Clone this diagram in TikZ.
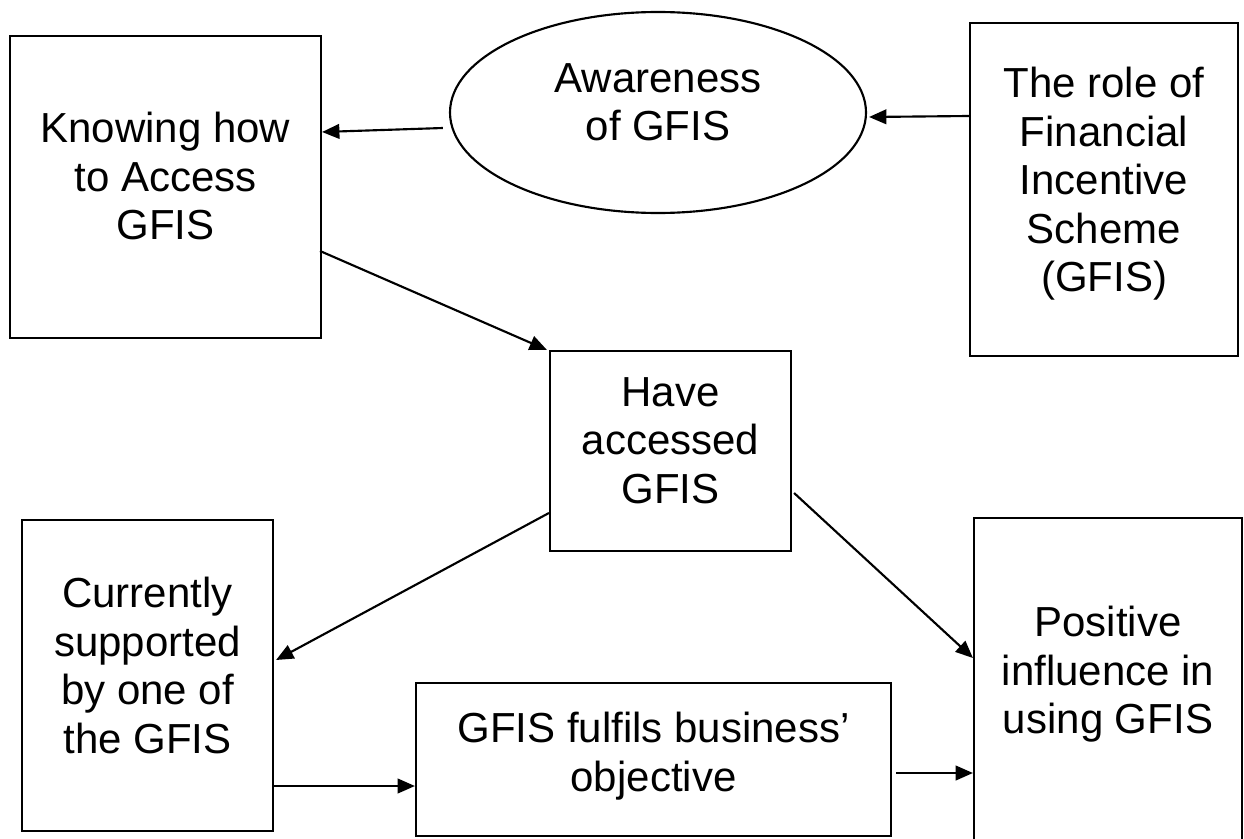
\documentclass[tikz,border=0pt]{standalone}
\usepackage{fontspec}
\setmainfont{Liberation Sans}
\usetikzlibrary{arrows.meta,shapes.geometric,calc}
\begin{document}
\begin{tikzpicture}[x=0.75pt,y=-0.75pt,
  box/.style={draw,line width=1.6pt,rectangle,inner sep=0pt},
  oval/.style={draw,line width=1.6pt,ellipse,inner sep=0pt},
  lbl/.style={align=center,anchor=north,inner sep=0pt,font=\fontsize{31.5}{36.4}\selectfont},
  arr/.style={line width=1.6pt,-{Triangle[length=13pt,width=11pt]}}]
\useasboundingbox (0,0) rectangle (1244,838);

% shapes
\node[box,minimum width=233.25pt,minimum height=226.5pt] (know) at (165.5,187) {};
\node[oval,minimum width=312pt,minimum height=150.75pt] (aware) at (658,112.5) {};
\node[box,minimum width=201pt,minimum height=249.75pt] (role) at (1104,189.5) {};
\node[box,minimum width=180.75pt,minimum height=150pt] (have) at (670.5,451) {};
\node[box,minimum width=188.25pt,minimum height=233.25pt] (curr) at (147.5,675.5) {};
\node[box,minimum width=356.25pt,minimum height=114.75pt] (fulf) at (653.5,759.5) {};
\node[box,minimum width=201pt,minimum height=249pt] (pos) at (1108,684) {};

% texts
\node[lbl] (tknow) at (165.5,112) {Knowing how\\to Access\\GFIS};
\node[lbl] (taware) at (658,63) {Awareness\\of GFIS};
\node[lbl] (trole) at (1104,67) {The role of\\Financial\\Incentive\\Scheme\\(GFIS)};
\node[lbl] (thave) at (670.5,377) {Have\\accessed\\GFIS};
\node[lbl] (tcurr) at (147.5,577) {Currently\\supported\\by one of\\the GFIS};
\node[lbl] (tfulf) at (653.5,712) {GFIS fulfils business’\\objective};
\node[lbl] (tpos) at (1108,606) {Positive\\influence in\\using GFIS};

% connectors
\draw[arr] ($(aware.west)+(-6,15.5)$) -- ($(know.east)+(0,-55)$);
\draw[arr] ($(role.west)+(0,-73.5)$) -- ($(aware.east)+(2,4.5)$);
\draw[arr] ($(know.east)+(-2,64)$) -- ($(have.north west)+(-2,0)$);
\draw[arr] ($(have.west)+(0,62)$) -- ($(curr.east)+(2,-15.5)$);
\draw[arr] ($(have.east)+(2,42)$) -- ($(pos.west)+(0,-26)$);
\draw[arr] ($(curr.east)+(0,110.5)$) -- ($(fulf.west)+(0,26.5)$);
\draw[arr] ($(fulf.east)+(4,13.5)$) -- ($(pos.west)+(0,89)$);
\end{tikzpicture}
\end{document}
